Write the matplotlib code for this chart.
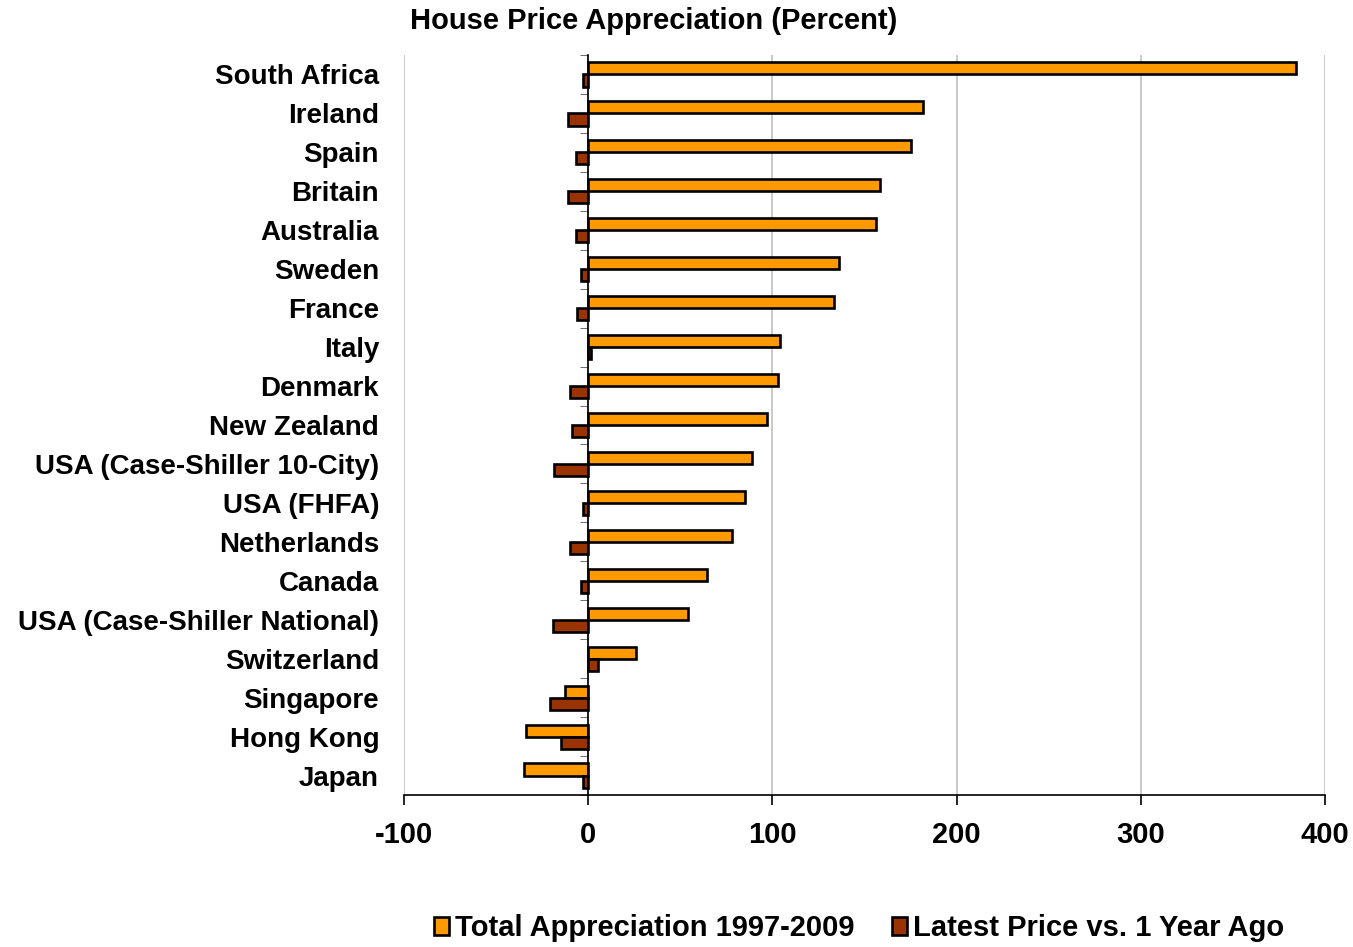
import numpy as np
import matplotlib.pyplot as plt

plt.rcParams['font.family'] = ['Liberation Sans', 'DejaVu Sans']
plt.rcParams['font.weight'] = 'bold'
plt.rcParams['axes.unicode_minus'] = False

countries = ["South Africa", "Ireland", "Spain", "Britain", "Australia", "Sweden",
             "France", "Italy", "Denmark", "New Zealand", "USA (Case-Shiller 10-City)",
             "USA (FHFA)", "Netherlands", "Canada", "USA (Case-Shiller National)",
             "Switzerland", "Singapore", "Hong Kong", "Japan"]
total_apprec = [384, 182, 175, 158.5, 156, 136, 133.5, 104, 103, 97, 89, 85, 78,
                64.5, 54, 26, -12.5, -33.7, -34.7]
latest_yoy = [-3, -11, -6.5, -11, -6.5, -4, -6, 1.5, -10, -9, -18.5, -3, -10,
              -4, -19, 5.5, -20.5, -14.7, -3]

orange = "#FF9900"
brown = "#993300"

fig = plt.figure(figsize=(13.53, 9.47), dpi=100)
ax = fig.add_axes([0.2986, 0.1605, 0.6807, 0.7814])

y = np.arange(len(countries))
h = 0.31
ax.barh(y - h / 2, total_apprec, height=h, color=orange, edgecolor="black",
        linewidth=1.9, label="Total Appreciation 1997-2009", zorder=3)
ax.barh(y + h / 2, latest_yoy, height=h, color=brown, edgecolor="black",
        linewidth=1.9, label="Latest Price vs. 1 Year Ago", zorder=3)

ax.set_xlim(-100, 400)
ax.set_ylim(len(countries) - 0.5, -0.5)
ax.set_xticks([-100, 0, 100, 200, 300, 400])
ax.xaxis.grid(True, color="#c0c0c0", linewidth=1.2, zorder=0)

# y spine sits at zero; category ticks at the band edges
ax.set_yticks([])
ax.set_yticks(np.arange(len(countries) + 1) - 0.5, minor=True)
ax.tick_params(axis="y", which="minor", length=6, color="#555555", direction="out")
ax.tick_params(axis="x", length=7, width=1.2, labelsize=21, pad=12)
for lbl in ax.get_xticklabels():
    lbl.set_fontweight("bold")

for s in ["top", "right"]:
    ax.spines[s].set_visible(False)
ax.spines["left"].set_position(("data", 0))
ax.spines["left"].set_linewidth(1.2)
ax.spines["left"].set_zorder(4)
ax.spines["bottom"].set_linewidth(1.2)

# country names stay at the far left of the plot
trans = ax.get_yaxis_transform()
for i, c in enumerate(countries):
    ax.text(-0.027, i, c, transform=trans, ha="right", va="center_baseline",
            fontsize=20, fontweight="bold")

fig.text(0.303, 0.978, "House Price Appreciation (Percent)", fontsize=21,
         fontweight="bold", ha="left", va="center")

leg = fig.legend(loc="center", bbox_to_anchor=(0.635, 0.020), ncol=2, frameon=False,
                 fontsize=21, handlelength=0.5, handleheight=0.6, handletextpad=0.2,
                 columnspacing=1.3)
for t in leg.get_texts():
    t.set_fontweight("bold")

fig.savefig("out.png", dpi=100)
